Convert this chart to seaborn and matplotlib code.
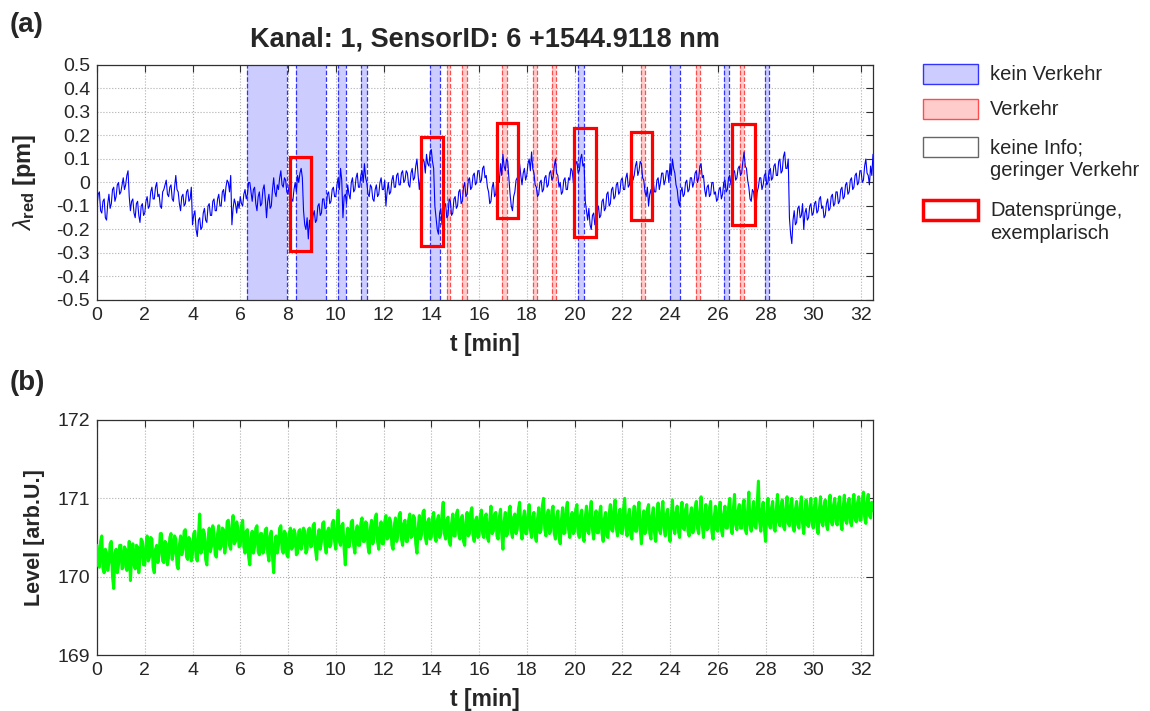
import numpy as np
import pandas as pd
import matplotlib
matplotlib.use("Agg")
import matplotlib.pyplot as plt
from matplotlib.patches import Rectangle
import seaborn as sns

# ---------------- data ----------------
t_step = 0.05  # minutes between samples

lambda_red = [
    -0.10, -0.05, -0.04, -0.12, -0.13, -0.08, -0.07, -0.15, -0.16, -0.09, -0.05, -0.11, -0.09, -0.03, -0.02, -0.08, -0.06, -0.01, 0.00, -0.05,
    -0.04, -0.01, 0.02, -0.03, -0.01, 0.03, 0.05, -0.06, -0.12, -0.08, -0.07, -0.13, -0.15, -0.09, -0.08, -0.14, -0.17, -0.10, -0.09, -0.14,
    -0.13, -0.08, -0.06, -0.11, -0.10, -0.04, -0.02, -0.07, -0.07, -0.02, 0.00, -0.06, -0.05, -0.10, -0.11, -0.04, -0.03, -0.01, 0.01, -0.05,
    -0.06, -0.02, -0.01, -0.07, -0.08, -0.02, 0.03, -0.03, -0.04, -0.09, -0.12, -0.06, -0.05, -0.10, -0.09, -0.04, -0.03, -0.08, -0.07, -0.02,
    -0.18, -0.14, -0.12, -0.20, -0.23, -0.16, -0.15, -0.20, -0.19, -0.13, -0.11, -0.16, -0.17, -0.10, -0.09, -0.14, -0.14, -0.08, -0.07, -0.12,
    -0.12, -0.07, -0.05, -0.10, -0.10, -0.04, -0.03, -0.08, -0.02, 0.01, 0.00, -0.04, 0.03, -0.18, -0.11, -0.07, -0.09, -0.13, -0.08, -0.11,
    -0.06, -0.09, -0.10, -0.05, -0.03, -0.07, -0.05, 0.00, 0.00, -0.04, -0.08, -0.03, -0.02, -0.09, -0.12, -0.06, -0.04, -0.10, -0.09, -0.03,
    -0.01, -0.07, -0.15, -0.08, -0.05, -0.11, -0.10, -0.03, 0.02, -0.04, -0.06, -0.01, -0.03, 0.02, 0.05, -0.01, -0.02, 0.02, 0.01, -0.04,
    -0.05, -0.01, -0.02, -0.07, -0.08, -0.03, 0.00, -0.04, 0.03, 0.00, 0.04, 0.06, 0.02, -0.12, -0.18, -0.20, -0.15, -0.24, -0.16, -0.21,
    -0.19, -0.14, -0.12, -0.17, -0.16, -0.10, -0.09, -0.14, -0.13, -0.07, -0.07, -0.11, -0.11, -0.05, -0.04, -0.09, -0.08, -0.03, -0.02, -0.06,
    -0.06, -0.01, 0.02, -0.03, 0.06, 0.01, -0.15, -0.06, -0.05, -0.09, -0.01, -0.05, -0.07, 0.00, 0.02, -0.04, -0.03, 0.02, 0.04, -0.02,
    -0.02, 0.03, 0.05, 0.00, 0.08, 0.02, 0.00, -0.05, -0.06, -0.01, -0.02, -0.07, -0.08, -0.03, -0.01, -0.06, -0.05, 0.00, 0.02, -0.03,
    -0.03, 0.01, -0.10, -0.04, 0.00, -0.05, -0.04, 0.01, 0.03, -0.02, -0.02, 0.03, 0.04, -0.01, -0.01, 0.04, 0.05, 0.00, 0.01, 0.05,
    0.04, -0.01, -0.02, 0.04, 0.06, 0.01, 0.02, 0.07, 0.10, 0.03, -0.03, 0.02, 0.05, 0.10, 0.09, 0.04, 0.12, 0.08, 0.07, 0.13,
    0.14, 0.09, 0.06, -0.10, -0.15, -0.20, -0.22, -0.13, -0.11, -0.18, -0.17, -0.10, -0.09, -0.15, -0.14, -0.07, -0.08, -0.14, -0.13, -0.07,
    -0.06, -0.11, -0.10, -0.04, -0.03, -0.09, -0.08, -0.02, 0.00, -0.06, -0.05, 0.01, 0.02, -0.03, -0.02, 0.03, 0.04, -0.01, 0.00, 0.05,
    0.05, 0.00, 0.01, 0.06, 0.07, 0.02, 0.03, -0.02, -0.04, -0.09, -0.08, -0.02, 0.00, -0.06, -0.05, 0.02, 0.04, 0.00, 0.08, 0.03,
    0.12, 0.07, 0.05, 0.10, 0.09, 0.02, -0.05, -0.10, -0.12, -0.06, -0.04, 0.01, 0.02, -0.02, 0.08, 0.03, -0.01, 0.04, 0.06, 0.01,
    0.03, 0.08, 0.10, 0.05, 0.13, 0.06, 0.04, -0.01, -0.02, -0.06, -0.05, 0.00, 0.01, -0.04, -0.03, 0.02, 0.03, -0.02, -0.01, 0.04,
    0.05, 0.01, 0.02, 0.07, 0.10, 0.04, 0.03, -0.02, 0.00, -0.05, -0.04, 0.01, 0.02, -0.03, -0.03, 0.02, 0.01, 0.06, 0.05, 0.00,
    0.03, 0.08, 0.09, 0.04, 0.05, 0.10, 0.12, 0.07, 0.08, -0.08, -0.12, -0.16, -0.11, -0.18, -0.20, -0.14, -0.13, -0.18, -0.17, -0.12,
    -0.10, -0.15, -0.14, -0.08, -0.07, -0.12, -0.11, -0.05, -0.04, -0.10, -0.09, -0.03, -0.02, -0.07, -0.06, -0.01, 0.00, -0.05, -0.04, 0.01,
    0.02, -0.03, -0.03, 0.02, 0.04, -0.02, -0.01, 0.05, 0.06, 0.01, 0.03, 0.07, 0.09, 0.03, 0.05, 0.09, 0.08, 0.02, 0.01, -0.04,
    -0.06, -0.02, -0.10, -0.05, -0.03, -0.08, 0.00, -0.04, -0.04, 0.01, 0.02, -0.03, 0.00, 0.04, 0.04, -0.01, 0.01, 0.05, 0.05, 0.00,
    0.08, 0.03, 0.10, 0.06, 0.04, -0.01, -0.03, -0.08, -0.10, -0.04, -0.02, -0.06, -0.05, 0.00, 0.01, -0.04, -0.03, 0.02, 0.02, -0.02,
    0.00, 0.04, 0.05, 0.00, 0.02, 0.07, 0.08, 0.02, 0.03, -0.03, -0.06, -0.02, -0.01, -0.06, -0.05, 0.00, 0.00, -0.05, -0.04, -0.08,
    -0.07, -0.03, -0.02, -0.07, -0.05, 0.00, 0.01, -0.04, -0.03, 0.02, 0.03, -0.01, 0.00, 0.04, 0.05, 0.01, 0.02, 0.06, 0.07, 0.03,
    0.04, 0.09, 0.13, 0.07, 0.06, 0.01, -0.02, -0.07, -0.08, -0.03, -0.04, -0.09, -0.10, -0.04, -0.02, 0.02, 0.02, -0.03, -0.01, 0.03,
    0.04, -0.01, 0.00, 0.05, 0.06, 0.01, 0.02, 0.07, 0.08, 0.03, 0.03, 0.09, 0.10, 0.04, 0.05, 0.11, 0.13, 0.06, 0.06, 0.10,
    -0.15, -0.22, -0.26, -0.16, -0.12, -0.18, -0.17, -0.11, -0.10, -0.15, -0.14, -0.09, -0.20, -0.13, -0.11, -0.16, -0.15, -0.10, -0.09, -0.14,
    -0.13, -0.09, -0.08, -0.13, -0.12, -0.07, -0.06, -0.11, -0.10, -0.15, -0.14, -0.09, -0.07, -0.12, -0.11, -0.06, -0.05, -0.10, -0.09, -0.04,
    -0.04, -0.09, -0.08, -0.03, -0.02, -0.07, -0.06, -0.01, 0.00, -0.05, -0.04, 0.01, 0.02, -0.03, -0.02, 0.03, 0.04, -0.01, 0.00, 0.05,
    0.05, 0.00, 0.01, 0.07, 0.10, 0.04, 0.03, -0.01, 0.07, 0.03, 0.12,
]

level = [
    170.40, 170.15, 170.12, 170.45, 170.52, 170.10, 170.05, 170.35, 170.30, 170.08, 170.18, 170.42, 170.45, 170.00, 169.85, 170.30, 170.35, 170.05, 170.15, 170.40,
    170.40, 170.10, 170.12, 170.38, 170.35, 170.08, 170.20, 170.45, 169.95, 170.25, 170.42, 170.15, 170.10, 170.40, 170.38, 170.05, 170.22, 170.48, 170.45, 170.15,
    170.15, 170.40, 170.52, 170.20, 170.25, 170.50, 170.48, 170.12, 170.05, 170.35, 170.40, 170.18, 170.28, 170.55, 170.55, 170.20, 170.18, 170.45, 170.42, 170.15,
    170.25, 170.50, 170.55, 170.22, 170.30, 170.52, 170.48, 170.15, 170.10, 170.40, 170.52, 170.28, 170.35, 170.58, 170.60, 170.25, 170.22, 170.50, 170.45, 170.20,
    170.30, 170.55, 170.58, 170.25, 170.20, 170.52, 170.80, 170.30, 170.35, 170.60, 170.55, 170.22, 170.15, 170.48, 170.62, 170.32, 170.40, 170.65, 170.55, 170.28,
    170.25, 170.55, 170.65, 170.35, 170.38, 170.62, 170.60, 170.30, 170.42, 170.70, 170.72, 170.40, 170.35, 170.65, 170.78, 170.42, 170.45, 170.70, 170.62, 170.38,
    170.40, 170.65, 170.72, 170.38, 170.30, 170.58, 170.60, 170.25, 170.15, 170.50, 170.58, 170.30, 170.38, 170.62, 170.65, 170.32, 170.28, 170.55, 170.55, 170.30,
    170.35, 170.60, 170.62, 170.30, 170.20, 170.52, 170.58, 170.25, 170.05, 170.40, 170.52, 170.30, 170.40, 170.62, 170.65, 170.35, 170.30, 170.58, 170.55, 170.28,
    170.25, 170.55, 170.62, 170.35, 170.38, 170.60, 170.55, 170.28, 170.30, 170.58, 170.60, 170.35, 170.42, 170.62, 170.58, 170.30, 170.35, 170.60, 170.62, 170.38,
    170.40, 170.65, 170.68, 170.35, 170.22, 170.50, 170.60, 170.35, 170.45, 170.68, 170.70, 170.40, 170.30, 170.58, 170.62, 170.38, 170.42, 170.68, 170.72, 170.45,
    170.35, 170.62, 170.85, 170.45, 170.40, 170.65, 170.68, 170.35, 170.15, 170.50, 170.62, 170.38, 170.45, 170.70, 170.72, 170.40, 170.30, 170.58, 170.65, 170.40,
    170.40, 170.68, 170.75, 170.45, 170.45, 170.70, 170.68, 170.38, 170.30, 170.62, 170.72, 170.42, 170.48, 170.75, 170.80, 170.45, 170.35, 170.62, 170.70, 170.42,
    170.42, 170.70, 170.78, 170.48, 170.50, 170.75, 170.70, 170.40, 170.35, 170.65, 170.75, 170.45, 170.52, 170.78, 170.82, 170.48, 170.40, 170.68, 170.72, 170.45,
    170.45, 170.72, 170.80, 170.50, 170.52, 170.78, 170.75, 170.42, 170.30, 170.62, 170.78, 170.48, 170.55, 170.82, 170.85, 170.50, 170.42, 170.70, 170.74, 170.48,
    170.50, 170.75, 170.82, 170.52, 170.45, 170.72, 170.78, 170.50, 170.55, 170.80, 170.95, 170.55, 170.48, 170.72, 170.76, 170.45, 170.40, 170.68, 170.80, 170.52,
    170.52, 170.80, 170.85, 170.55, 170.48, 170.74, 170.78, 170.45, 170.40, 170.70, 170.82, 170.52, 170.55, 170.82, 170.88, 170.52, 170.45, 170.72, 170.76, 170.50,
    170.52, 170.78, 170.85, 170.55, 170.50, 170.76, 170.80, 170.50, 170.45, 170.72, 170.90, 170.55, 170.58, 170.80, 170.82, 170.52, 170.48, 170.76, 170.86, 170.55,
    170.35, 170.70, 170.82, 170.52, 170.55, 170.82, 170.90, 170.58, 170.50, 170.76, 170.80, 170.55, 170.60, 170.86, 170.95, 170.60, 170.48, 170.74, 170.84, 170.55,
    170.55, 170.80, 170.92, 170.60, 170.50, 170.76, 170.82, 170.52, 170.45, 170.74, 170.88, 170.56, 170.60, 170.90, 171.00, 170.62, 170.52, 170.78, 170.85, 170.55,
    170.58, 170.84, 170.90, 170.55, 170.48, 170.76, 170.84, 170.52, 170.42, 170.72, 170.88, 170.55, 170.56, 170.86, 170.95, 170.60, 170.50, 170.74, 170.82, 170.55,
    170.58, 170.86, 170.92, 170.56, 170.50, 170.78, 170.85, 170.52, 170.45, 170.76, 170.90, 170.58, 170.55, 170.84, 170.96, 170.60, 170.48, 170.74, 170.84, 170.56,
    170.56, 170.82, 170.90, 170.55, 170.45, 170.74, 170.82, 170.52, 170.50, 170.80, 170.92, 170.60, 170.58, 170.88, 170.98, 170.62, 170.52, 170.78, 170.86, 170.56,
    170.55, 170.86, 171.00, 170.62, 170.52, 170.78, 170.86, 170.55, 170.48, 170.76, 170.90, 170.58, 170.58, 170.86, 170.95, 170.60, 170.42, 170.70, 170.84, 170.55,
    170.60, 170.86, 170.92, 170.55, 170.48, 170.78, 170.88, 170.56, 170.45, 170.74, 170.94, 170.60, 170.55, 170.84, 170.96, 170.62, 170.52, 170.80, 170.86, 170.58,
    170.45, 170.76, 170.98, 170.62, 170.55, 170.82, 170.90, 170.58, 170.50, 170.80, 170.95, 170.62, 170.60, 170.86, 170.92, 170.58, 170.52, 170.78, 170.88, 170.56,
    170.60, 170.88, 170.96, 170.62, 170.55, 170.84, 171.02, 170.66, 170.50, 170.78, 170.92, 170.60, 170.62, 170.88, 170.96, 170.58, 170.48, 170.76, 170.90, 170.60,
    170.58, 170.86, 170.95, 170.60, 170.52, 170.80, 170.90, 170.62, 170.62, 170.88, 171.00, 170.64, 170.55, 170.86, 171.05, 170.66, 170.60, 170.84, 170.92, 170.62,
    170.62, 170.90, 170.98, 170.60, 170.55, 170.84, 171.08, 170.66, 170.58, 170.82, 170.96, 170.64, 170.62, 170.92, 171.22, 170.70, 170.58, 170.84, 170.95, 170.62,
    170.45, 170.80, 171.00, 170.68, 170.62, 170.88, 170.96, 170.62, 170.58, 170.86, 171.05, 170.70, 170.65, 170.90, 170.98, 170.64, 170.60, 170.88, 171.02, 170.68,
    170.65, 170.92, 171.00, 170.64, 170.58, 170.86, 170.96, 170.66, 170.62, 170.90, 171.02, 170.68, 170.55, 170.82, 170.98, 170.66, 170.64, 170.90, 171.00, 170.68,
    170.62, 170.90, 171.00, 170.66, 170.55, 170.84, 171.02, 170.70, 170.65, 170.90, 170.98, 170.66, 170.60, 170.88, 171.04, 170.70, 170.66, 170.92, 171.00, 170.70,
    170.66, 170.92, 171.02, 170.70, 170.60, 170.88, 171.04, 170.72, 170.68, 170.94, 171.00, 170.70, 170.65, 170.92, 171.05, 170.74, 170.70, 170.94, 171.02, 170.72,
    170.72, 170.98, 171.08, 170.76, 170.68, 170.94, 171.05, 170.78, 170.75, 170.95, 170.85,
]

# intervals (t start, t end) in minutes
kein_verkehr = [(6.28, 7.94), (8.35, 9.60), (10.08, 10.43), (11.05, 11.30),
                (13.96, 14.37), (20.14, 20.39), (23.98, 24.43), (26.24, 26.47),
                (27.99, 28.13)]
verkehr = [(14.65, 14.78), (15.30, 15.48), (16.97, 17.17), (18.24, 18.41),
           (19.05, 19.24), (22.77, 22.95), (25.09, 25.27), (26.92, 27.10)]
# Datenspruenge (exemplary jumps): time span and value span
spruenge_t0 = [8.08, 13.58, 16.76, 19.97, 22.36, 26.61]
spruenge_t1 = [8.97, 14.48, 17.62, 20.90, 23.25, 27.54]
spruenge_y0 = [-0.29, -0.27, -0.15, -0.23, -0.16, -0.18]
spruenge_y1 = [0.11, 0.195, 0.255, 0.23, 0.215, 0.25]

title = "Kanal: 1, SensorID: 6 +1544.9118 nm"
ticks_a = [0.5, 0.4, 0.3, 0.2, 0.1, 0.0, -0.1, -0.2, -0.3, -0.4, -0.5]
ticklabels_a = ["0.5", "0.4", "0.3", "0.2", "0.1", "0", "-0.1", "-0.2", "-0.3", "-0.4", "-0.5"]
ticks_b = [169, 170, 171, 172]
legend_labels = ["kein Verkehr", "Verkehr", "keine Info;\ngeringer Verkehr",
                 "Datensprünge,\nexemplarisch"]

df_a = pd.DataFrame({"t": np.arange(len(lambda_red)) * t_step, "v": lambda_red})
df_b = pd.DataFrame({"t": np.arange(len(level)) * t_step, "v": level})

# ---------------- style ----------------
sns.set_style("white")
plt.rcParams["font.family"] = ["Liberation Sans", "DejaVu Sans"]
plt.rcParams["mathtext.fontset"] = "custom"
plt.rcParams["mathtext.rm"] = "Liberation Sans"
plt.rcParams["mathtext.bf"] = "Liberation Sans:bold"
plt.rcParams["mathtext.it"] = "Liberation Sans:italic"

W, H = 1150, 711
fig = plt.figure(figsize=(W / 100, H / 100), dpi=100)
ax1 = fig.add_axes([97 / W, 1 - 300 / H, 776 / W, 235 / H])
ax2 = fig.add_axes([97 / W, 1 - 655 / H, 776 / W, 235 / H])

blue_face = (0.8, 0.8, 1.0)
blue_edge = (0.2, 0.2, 1.0)
red_face = (1.0, 0.8, 0.8)
red_edge = (1.0, 0.3, 0.3)

for a, b in kein_verkehr:
    ax1.axvspan(a, b, facecolor=blue_face, edgecolor="none", zorder=1)
    for xx in (a, b):
        ax1.axvline(xx, color=blue_edge, ls="--", lw=0.9, zorder=1.5)
for a, b in verkehr:
    ax1.axvspan(a, b, facecolor=red_face, edgecolor="none", zorder=1)
    for xx in (a, b):
        ax1.axvline(xx, color=red_edge, ls="--", lw=0.9, zorder=1.5)

sns.lineplot(data=df_a, x="t", y="v", ax=ax1, color=(0, 0, 1), lw=0.8, zorder=3)
for x0, x1, y0, y1 in zip(spruenge_t0, spruenge_t1, spruenge_y0, spruenge_y1):
    ax1.add_patch(Rectangle((x0, y0), x1 - x0, y1 - y0, fill=False,
                            edgecolor="red", lw=2.3, zorder=4))

sns.lineplot(data=df_b, x="t", y="v", ax=ax2, color=(0, 1, 0), lw=2.2, zorder=3)

for ax in (ax1, ax2):
    ax.set_xlim(0, 32.5)
    ax.set_xticks(np.arange(0, 33, 2))
    ax.grid(True, ls=":", color="#b0b0b0", lw=0.8)
    ax.set_axisbelow(True)
    ax.tick_params(direction="in", top=True, right=True, length=5,
                   labelsize=14, color="#303030", pad=5)
    for s in ax.spines.values():
        s.set_color("#303030")
        s.set_linewidth(0.9)
    ax.set_xlabel("t [min]", fontsize=16.5, fontweight="bold")
    ax.xaxis.set_label_coords(0.5, -0.14)

ax1.set_ylim(-0.5, 0.5)
ax1.set_yticks(ticks_a)
ax1.set_yticklabels(ticklabels_a)
ax1.set_ylabel(r"$\lambda_{\mathbf{red}}$ [pm]", fontsize=17, fontweight="bold")
ax1.yaxis.set_label_coords(-0.076, 0.5)
ax1.set_title(title, fontsize=19.5, fontweight="bold", y=1.072, va="center")

ax2.set_ylim(169, 172)
ax2.set_yticks(ticks_b)
ax2.set_ylabel("Level [arb.U.]", fontsize=15.5, fontweight="bold")
ax2.yaxis.set_label_coords(-0.067, 0.5)

fig.text(10 / W, 1 - 25 / H, "(a)", fontsize=20, fontweight="bold", va="center")
fig.text(10 / W, 1 - 383 / H, "(b)", fontsize=20, fontweight="bold", va="center")

# legend drawn manually (MATLAB style: box aligned with the first text line)
leg_faces = [blue_face, red_face, "white", "white"]
leg_edges = [blue_edge, red_edge, "#666666", "red"]
leg_lw = [1.0, 1.0, 1.0, 2.5]
leg_top = [64, 99, 137, 200]   # pixel rows of the box tops
for face, edge, lw, top, lab in zip(leg_faces, leg_edges, leg_lw, leg_top, legend_labels):
    fig.add_artist(Rectangle((923 / W, 1 - (top + 20) / H), 55 / W, 20 / H,
                             transform=fig.transFigure, facecolor=face,
                             edgecolor=edge, lw=lw))
    fig.text(990 / W, 1 - (top + 1) / H, lab, fontsize=14.5, va="top",
             ha="left", linespacing=1.25)

fig.savefig("out.png", dpi=100)
